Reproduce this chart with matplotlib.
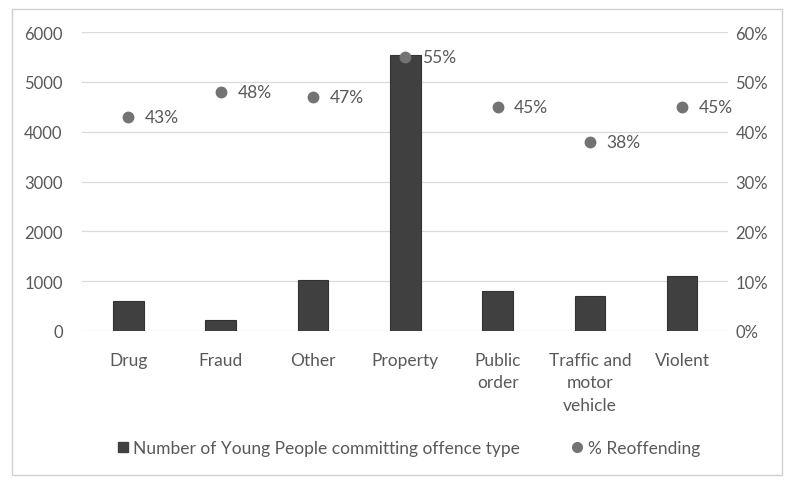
import matplotlib
matplotlib.use("Agg")
import matplotlib.pyplot as plt
from matplotlib.patches import Rectangle
from matplotlib.lines import Line2D

categories = ["Drug", "Fraud", "Other", "Property", "Public\norder",
              "Traffic and\nmotor\nvehicle", "Violent"]
young_people = [600, 220, 1020, 5540, 800, 700, 1100]
reoffending = [43, 48, 47, 55, 45, 38, 45]

plt.rcParams['font.family'] = ['Lato', 'DejaVu Sans']
TXT = "#595959"
GRID = "#d9d9d9"

fig = plt.figure(figsize=(7.9, 4.81), dpi=100)
fig.patches.append(Rectangle((0.015, 0.01), 0.975, 0.97, transform=fig.transFigure,
                             fill=False, edgecolor="#d0d0d0", linewidth=1))
ax = fig.add_axes([0.104, 0.31, 0.818, 0.621])
x = range(len(categories))
ax.bar(x, young_people, width=0.33, color="#404040", edgecolor="#333333",
       linewidth=0.8, zorder=2)
ax.set_ylim(0, 6000)
ax.set_yticks(range(0, 6001, 1000))
ax.set_xlim(-0.5, len(categories) - 0.5)
ax.grid(axis="y", color=GRID, linewidth=0.9, zorder=0)
ax.set_axisbelow(True)
for s in ax.spines.values():
    s.set_visible(False)
ax.tick_params(axis="both", length=0, colors=TXT, labelsize=12)
ax.tick_params(axis="y", pad=14)
ax.set_xticks(list(x))
ax.set_xticklabels(categories, color=TXT, fontsize=12.5, linespacing=1.5)
ax.tick_params(axis="x", pad=15)

ax2 = ax.twinx()
ax2.set_ylim(0, 60)
ax2.set_yticks(range(0, 61, 10))
ax2.set_yticklabels([f"{v}%" for v in range(0, 61, 10)])
for s in ax2.spines.values():
    s.set_visible(False)
ax2.tick_params(axis="y", length=0, colors=TXT, labelsize=12, pad=5)
ax2.plot(list(x), reoffending, linestyle="none", marker="o", markersize=7.5,
         color="#737373", zorder=3)
for xi, v in zip(x, reoffending):
    ax2.annotate(f"{v}%", (xi, v), xytext=(12, 0), textcoords="offset points",
                 ha="left", va="center", color=TXT, fontsize=12.5)

handles = [
    Line2D([], [], linestyle="none", marker="s", markersize=7, color="#404040"),
    Line2D([], [], linestyle="none", marker="o", markersize=7, color="#737373"),
]
fig.legend(handles, ["Number of Young People committing offence type", "% Reoffending"],
           loc="center", bbox_to_anchor=(0.515, 0.066), ncol=2, frameon=False,
           fontsize=12.5, labelcolor=TXT, handletextpad=0.1, columnspacing=2.8,
           handlelength=1.0)

fig.savefig("out.png", dpi=100)
